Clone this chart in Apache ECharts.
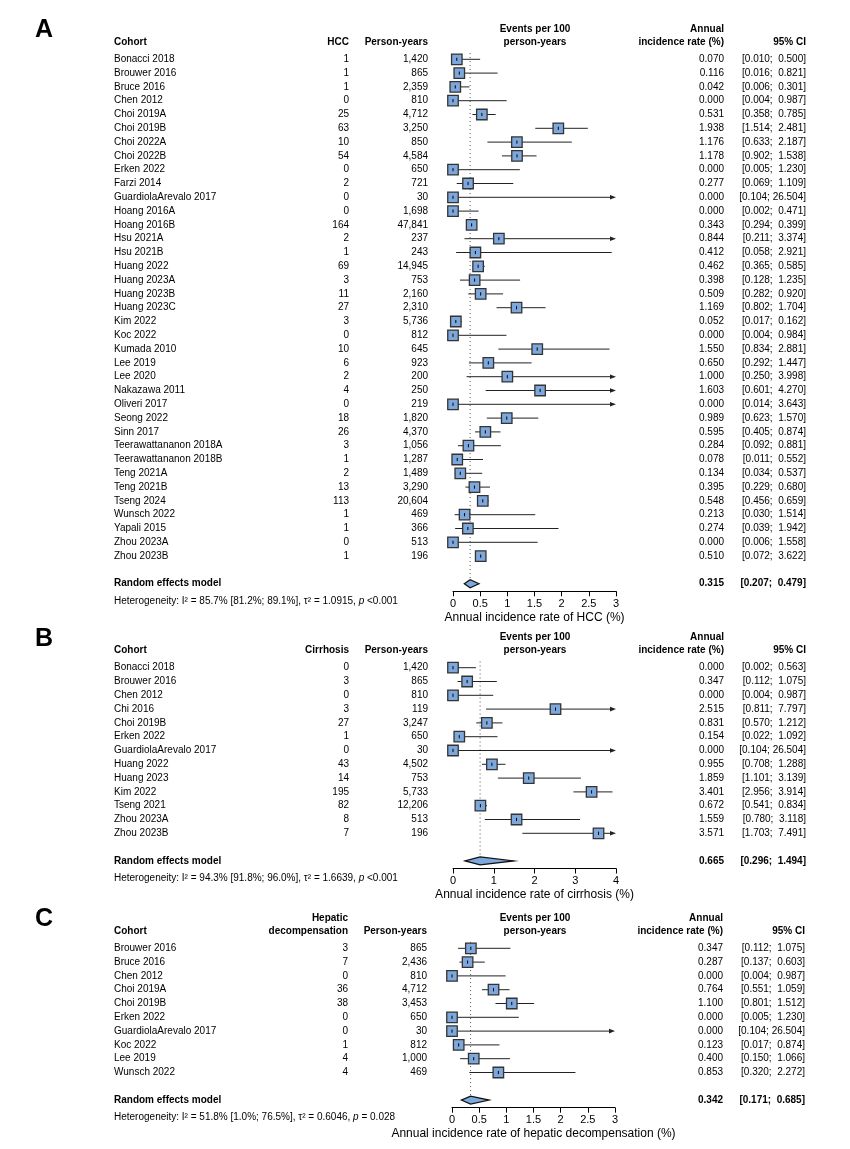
<!DOCTYPE html>
<html><head><meta charset="utf-8">
<script src="https://cdn.jsdelivr.net/npm/echarts@6/dist/echarts.min.js"></script>
<style>html,body{margin:0;padding:0;background:#fff}#c{width:850px;height:1149px}</style>
</head><body><div id="c"></div>
<script>
// ---------- Panel A: HCC ----------
const cohortsA = ["Bonacci 2018","Brouwer 2016","Bruce 2016","Chen 2012","Choi 2019A","Choi 2019B","Choi 2022A","Choi 2022B","Erken 2022","Farzi 2014","GuardiolaArevalo 2017","Hoang 2016A","Hoang 2016B","Hsu 2021A","Hsu 2021B","Huang 2022","Huang 2023A","Huang 2023B","Huang 2023C","Kim 2022","Koc 2022","Kumada 2010","Lee 2019","Lee 2020","Nakazawa 2011","Oliveri 2017","Seong 2022","Sinn 2017","Teerawattananon 2018A","Teerawattananon 2018B","Teng 2021A","Teng 2021B","Tseng 2024","Wunsch 2022","Yapali 2015","Zhou 2023A","Zhou 2023B"];
const eventsA = [1,1,1,0,25,63,10,54,0,2,0,0,164,2,1,69,3,11,27,3,0,10,6,2,4,0,18,26,3,1,2,13,113,1,1,0,1];
const pyA = [1420,865,2359,810,4712,3250,850,4584,650,721,30,1698,47841,237,243,14945,753,2160,2310,5736,812,645,923,200,250,219,1820,4370,1056,1287,1489,3290,20604,469,366,513,196];
const rateA = [0.070,0.116,0.042,0.000,0.531,1.938,1.176,1.178,0.000,0.277,0.000,0.000,0.343,0.844,0.412,0.462,0.398,0.509,1.169,0.052,0.000,1.550,0.650,1.000,1.603,0.000,0.989,0.595,0.284,0.078,0.134,0.395,0.548,0.213,0.274,0.000,0.510];
const lowA = [0.010,0.016,0.006,0.004,0.358,1.514,0.633,0.902,0.005,0.069,0.104,0.002,0.294,0.211,0.058,0.365,0.128,0.282,0.802,0.017,0.004,0.834,0.292,0.250,0.601,0.014,0.623,0.405,0.092,0.011,0.034,0.229,0.456,0.030,0.039,0.006,0.072];
const highA = [0.500,0.821,0.301,0.987,0.785,2.481,2.187,1.538,1.230,1.109,26.504,0.471,0.399,3.374,2.921,0.585,1.235,0.920,1.704,0.162,0.984,2.881,1.447,3.998,4.270,3.643,1.570,0.874,0.881,0.552,0.537,0.680,0.659,1.514,1.942,1.558,3.622];
const noLineA = ["Zhou 2023B"];
const pooledA = [0.315,0.207,0.479];
const hetA = ["85.7%","[81.2%; 89.1%]","1.0915","<0.001"];
const ticksA = [0,3,0.5];

// ---------- Panel B: Cirrhosis ----------
const cohortsB = ["Bonacci 2018","Brouwer 2016","Chen 2012","Chi 2016","Choi 2019B","Erken 2022","GuardiolaArevalo 2017","Huang 2022","Huang 2023","Kim 2022","Tseng 2021","Zhou 2023A","Zhou 2023B"];
const eventsB = [0,3,0,3,27,1,0,43,14,195,82,8,7];
const pyB = [1420,865,810,119,3247,650,30,4502,753,5733,12206,513,196];
const rateB = [0.000,0.347,0.000,2.515,0.831,0.154,0.000,0.955,1.859,3.401,0.672,1.559,3.571];
const lowB = [0.002,0.112,0.004,0.811,0.570,0.022,0.104,0.708,1.101,2.956,0.541,0.780,1.703];
const highB = [0.563,1.075,0.987,7.797,1.212,1.092,26.504,1.288,3.139,3.914,0.834,3.118,7.491];
const pooledB = [0.665,0.296,1.494];
const hetB = ["94.3%","[91.8%; 96.0%]","1.6639","<0.001"];
const ticksB = [0,4,1];

// ---------- Panel C: Hepatic decompensation ----------
const cohortsC = ["Brouwer 2016","Bruce 2016","Chen 2012","Choi 2019A","Choi 2019B","Erken 2022","GuardiolaArevalo 2017","Koc 2022","Lee 2019","Wunsch 2022"];
const eventsC = [3,7,0,36,38,0,0,1,4,4];
const pyC = [865,2436,810,4712,3453,650,30,812,1000,469];
const rateC = [0.347,0.287,0.000,0.764,1.100,0.000,0.000,0.123,0.400,0.853];
const lowC = [0.112,0.137,0.004,0.551,0.801,0.005,0.104,0.017,0.150,0.320];
const highC = [1.075,0.603,0.987,1.059,1.512,1.230,26.504,0.874,1.066,2.272];
const pooledC = [0.342,0.171,0.685];
const hetC = ["51.8%","[1.0%; 76.5%]","0.6046","= 0.028"];
const ticksC = [0,3,0.5];

const panels = [
  {letter:"A", evHead:["HCC"], cohorts:cohortsA, events:eventsA, py:pyA, rate:rateA, low:lowA, high:highA, noLine:noLineA, pooled:pooledA, het:hetA, ticks:ticksA, title:"Annual incidence rate of HCC (%)", y0:59.3, left:453, right:616, cEv:349, cPy:428, cRate:724, cCi:806},
  {letter:"B", evHead:["Cirrhosis"], cohorts:cohortsB, events:eventsB, py:pyB, rate:rateB, low:lowB, high:highB, noLine:[], pooled:pooledB, het:hetB, ticks:ticksB, title:"Annual incidence rate of cirrhosis (%)", y0:667.7, left:453, right:616, cEv:349, cPy:428, cRate:724, cCi:806},
  {letter:"C", evHead:["Hepatic","decompensation"], cohorts:cohortsC, events:eventsC, py:pyC, rate:rateC, low:lowC, high:highC, noLine:[], pooled:pooledC, het:hetC, ticks:ticksC, title:"Annual incidence rate of hepatic decompensation (%)", y0:948.3, left:452, right:615, cEv:348, cPy:427, cRate:723, cCi:805}
];

const FONT = "Liberation Sans, Arial, Helvetica, sans-serif";
const STEP = 13.8;
const BOX = 10.5;
const FILL = "#7EA8DB";
const EDGE = "#333333";

function fmtCI(lo, hi){
  const h = hi.toFixed(3);
  return "[" + lo.toFixed(3) + "; " + (h.length < 6 ? " " + h : h) + "]";
}
function txt(x, y, s, align, bold, size){
  return {type:"text", x:x, y:y, silent:true,
    style:{text:s, fill:"#000", fontFamily:FONT, fontSize:size||10, fontWeight:bold?"bold":"normal", align:align||"left", verticalAlign:"middle"}};
}

const grids=[], xAxes=[], yAxes=[], series=[];
panels.forEach((p,k)=>{
  const N = p.cohorts.length;
  const axisRow = N + 1.55;
  grids.push({left:p.left, width:p.right-p.left, top:p.y0-STEP, height:(axisRow+1)*STEP, containLabel:false});
  xAxes.push({gridIndex:k, type:"value", position:"bottom", min:p.ticks[0], max:p.ticks[1], interval:p.ticks[2],
    name:p.title, nameLocation:"middle", nameGap:20,
    nameTextStyle:{fontSize:12, color:"#000", fontFamily:FONT},
    axisLine:{show:true, onZero:false, lineStyle:{color:"#000", width:1}},
    axisTick:{show:true, length:5, lineStyle:{color:"#000", width:1}},
    axisLabel:{fontSize:11, color:"#000", margin:7, fontFamily:FONT},
    splitLine:{show:false}});
  yAxes.push({gridIndex:k, type:"value", min:-1, max:axisRow, inverse:true, show:false});
  const xmax = p.ticks[1];
  const rows = p.cohorts.map((c,i)=>[p.rate[i], p.low[i], p.high[i], i]);

  // reference dotted line at pooled estimate
  series.push({type:"custom", xAxisIndex:k, yAxisIndex:k, clip:false, silent:true,
    data:[[p.pooled[0], -0.45, N+1-0.3]],
    renderItem:(params,api)=>{
      const a=api.coord([api.value(0),api.value(1)]), b=api.coord([api.value(0),api.value(2)]);
      return {type:"line", shape:{x1:a[0],y1:a[1],x2:b[0],y2:b[1]}, style:{stroke:"#555", lineWidth:1, lineDash:[1,3]}};
    }});

  // confidence interval lines with arrows
  series.push({type:"custom", xAxisIndex:k, yAxisIndex:k, clip:false, silent:true,
    data: rows.filter((r,i)=>p.noLine.indexOf(p.cohorts[i])<0),
    renderItem:(params,api)=>{
      const lo=api.value(1), hi=api.value(2), row=api.value(3);
      const a=api.coord([lo,row]), b=api.coord([Math.min(hi,xmax),row]);
      const ch=[];
      const arrow = hi > xmax;
      ch.push({type:"line", shape:{x1:a[0],y1:a[1],x2:arrow?b[0]-4:b[0],y2:b[1]}, style:{stroke:"#222", lineWidth:1}});
      if(arrow){
        ch.push({type:"polygon", shape:{points:[[b[0],b[1]],[b[0]-6,b[1]-2.3],[b[0]-6,b[1]+2.3]]}, style:{fill:"#222"}});
      }
      return {type:"group", children:ch};
    }});

  // study boxes
  series.push({type:"custom", xAxisIndex:k, yAxisIndex:k, clip:false, silent:true,
    data: rows,
    renderItem:(params,api)=>{
      const c=api.coord([api.value(0),api.value(3)]);
      return {type:"group", children:[
        {type:"rect", shape:{x:c[0]-BOX/2, y:c[1]-BOX/2, width:BOX, height:BOX}, style:{fill:FILL, stroke:EDGE, lineWidth:1.3}},
        {type:"line", shape:{x1:c[0],y1:c[1]-1.6,x2:c[0],y2:c[1]+1.6}, style:{stroke:"#000", lineWidth:1}}
      ]};
    }});

  // pooled diamond
  series.push({type:"custom", xAxisIndex:k, yAxisIndex:k, clip:false, silent:true,
    data:[[p.pooled[0], p.pooled[1], p.pooled[2], N+1]],
    renderItem:(params,api)=>{
      const r=api.value(3);
      const e=api.coord([api.value(0),r]), l=api.coord([api.value(1),r]), h=api.coord([api.value(2),r]);
      return {type:"polygon", shape:{points:[[l[0],l[1]],[e[0],e[1]-4],[h[0],h[1]],[e[0],e[1]+4]]}, style:{fill:FILL, stroke:"#111", lineWidth:1.2}};
    }});

  // table text: study rows
  series.push({type:"custom", xAxisIndex:k, yAxisIndex:k, clip:false, silent:true,
    data: rows,
    renderItem:(params,api)=>{
      const i=params.dataIndex;
      const y=api.coord([0,api.value(3)])[1];
      return {type:"group", children:[
        txt(114, y, p.cohorts[i], "left"),
        txt(p.cEv, y, String(p.events[i]), "right"),
        txt(p.cPy, y, p.py[i].toLocaleString("en-US"), "right"),
        txt(p.cRate, y, p.rate[i].toFixed(3), "right"),
        txt(p.cCi, y, fmtCI(p.low[i], p.high[i]), "right")
      ]};
    }});

  // headers, pooled row, heterogeneity, panel letter
  series.push({type:"custom", xAxisIndex:k, yAxisIndex:k, clip:false, silent:true,
    data:[[0,0]],
    renderItem:(params,api)=>{
      const Y=(r)=>api.coord([0,r])[1];
      const h1=Y(-2.2), h2=Y(-1.25), rr=Y(N+1), hr=Y(N+2.25);
      const ch=[
        {type:"text", x:44, y:Y(-2.1), silent:true, style:{text:p.letter, fill:"#000", fontFamily:FONT, fontSize:25, fontWeight:"bold", align:"center", verticalAlign:"middle"}},
        txt(114, h2, "Cohort", "left", true),
        txt(p.cPy, h2, "Person-years", "right", true),
        txt(535, h1, "Events per 100", "center", true),
        txt(535, h2, "person-years", "center", true),
        txt(p.cRate, h1, "Annual", "right", true),
        txt(p.cRate, h2, "incidence rate (%)", "right", true),
        txt(p.cCi, h2, "95% CI", "right", true),
        txt(114, rr, "Random effects model", "left", true),
        txt(p.cRate, rr, p.pooled[0].toFixed(3), "right", true),
        txt(p.cCi, rr, fmtCI(p.pooled[1], p.pooled[2]), "right", true),
        {type:"text", x:114, y:hr, silent:true, style:{
          text:"Heterogeneity: I\u00B2 = "+p.het[0]+" "+p.het[1]+", \u03C4\u00B2 = "+p.het[2]+", {it|p} "+p.het[3],
          fill:"#000", fontFamily:FONT, fontSize:10, align:"left", verticalAlign:"middle",
          rich:{it:{fontStyle:"italic", fontFamily:FONT, fontSize:10, fill:"#000"}}}}
      ];
      if(p.evHead.length===1){ ch.push(txt(p.cEv, h2, p.evHead[0], "right", true)); }
      else { ch.push(txt(p.cEv, h1, p.evHead[0], "right", true)); ch.push(txt(p.cEv, h2, p.evHead[1], "right", true)); }
      return {type:"group", children:ch};
    }});
});

const chart = echarts.init(document.getElementById("c"), null, {renderer:"canvas"});
chart.setOption({
  animation:false,
  backgroundColor:"#fff",
  grid:grids, xAxis:xAxes, yAxis:yAxes, series:series
});
</script>
</body></html>
